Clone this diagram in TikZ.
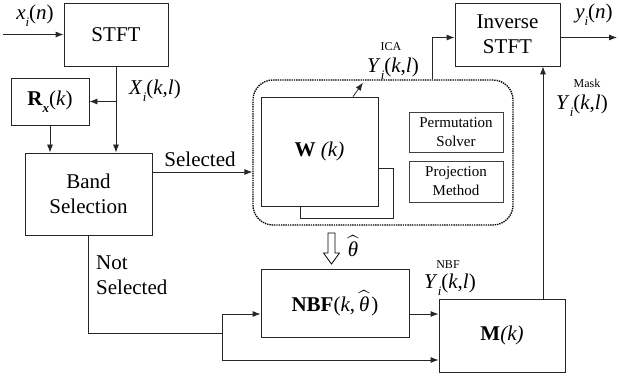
\documentclass[tikz,border=0pt]{standalone}
\usepackage{amsmath}
\usepackage{fontspec}
\setmainfont{Liberation Serif}
\usetikzlibrary{arrows.meta,calc}

% italic symbol with a low italic index, e.g. Y_i
\newcommand\lowidx[1]{\raisebox{-0.32em}{\fontsize{13}{13}\selectfont\itshape #1}}
\newcommand\Ykl{\textit{Y}\lowidx{i}(\textit{k},\textit{l})}
\newcommand\thetahat{$\widehat{\mbox{\itshape θ}}$}

\tikzset{
  blk/.style={draw=black!85, line width=0.8pt, fill=white, align=center, inner sep=0pt,
              font=\fontsize{21}{25}\selectfont},
  small/.style={draw=black!75, line width=0.8pt, align=center, inner sep=0pt,
                font=\fontsize{15}{19}\selectfont},
  lbl/.style={inner sep=0pt, align=center, font=\fontsize{21}{25}\selectfont},
  sup/.style={inner sep=0pt, font=\fontsize{12}{14}\selectfont},
  wire/.style={line width=0.8pt, draw=black!85},
  arr/.style={wire, -{Latex[length=8pt,width=6pt]}},
}

\begin{document}
\begin{tikzpicture}[x=1pt,y=-1pt]
\useasboundingbox (0,0) rectangle (619,379);

% processing blocks
\node[blk, minimum width=104pt, minimum height=63pt] (stft) at (116,34.5) {STFT};
\node[blk, minimum width=105pt, minimum height=63pt] (inv) at (507.5,34.5) {Inverse\\STFT};
\node[blk, minimum width=78pt, minimum height=47pt] (rx) at (50,101.5)
  {\textbf{R}\lowidx{\bfseries x}(\textit{k})};
\node[blk, minimum width=127pt, minimum height=82pt] (band) at (88.5,194) {Band\\Selection};

% ICA stage (dotted frame)
\node[draw, line width=1.3pt, dash pattern=on 1.4pt off 0.9pt, rounded corners=20pt,
      minimum width=260pt, minimum height=145pt, inner sep=0pt] (ica) at (383,152.5) {};
\draw[wire] (378,168) -- (393,168) -- (393,218) -- (300,218) -- (300,206);
\node[blk, minimum width=117pt, minimum height=109pt] (w) at (319.5,151.5)
  {\textbf{W} \textit{(k)}};
\node[small, minimum width=94pt, minimum height=40pt] (perm) at (456,132) {Permutation\\Solver};
\node[small, minimum width=94pt, minimum height=41pt] (proj) at (456,181.5) {Projection\\Method};

\node[blk, minimum width=148pt, minimum height=68pt] (nbf) at (335,303)
  {\textbf{NBF}(\textit{k},\kern4pt\thetahat\kern2pt)};
\node[blk, minimum width=126pt, minimum height=73pt] (m) at (502,335.5)
  {\textbf{M}\textit{(k)}};

% input and output
\coordinate (in) at (3,34.5);
\draw[arr] (in) -- (stft.west);
\node[lbl] (xin) at (35,16) {\textit{x}\lowidx{i}(\textit{n})};
\coordinate (out) at (617,37.5);
\draw[arr] ([yshift=-3pt]inv.east) -- (out);
\node[lbl] (yout) at (594,15) {\textit{y}\lowidx{i}(\textit{n})};

% STFT output to band selection and covariance
\draw[arr] (stft.south) -- (stft.south |- band.north);
\draw[arr] (stft.south |- rx.east) -- (rx.east);
\node[lbl] (xkl) at (155,91) {\textit{X}\lowidx{i}(\textit{k},\textit{l})};
\draw[arr] (rx.south) -- (rx.south |- band.north);

% selected bands
\draw[arr] ([yshift=22pt]band.east) -- ([yshift=22pt]band.east -| ica.west);
\node[lbl] (sel) at (200,159) {Selected};

% ICA output
\draw[arr] ([xshift=33.5pt]w.north) -- ++(10,-14);
\node[sup] (icatag) at (391,47) {ICA};
\node[lbl] (yica) at (393,69) {\Ykl};
\draw[arr] ([xshift=49pt]ica.north) |- ([yshift=-3pt]inv.west);

% direction estimate
\draw[line width=0.8pt, fill=white]
  (328,233) -- (335,233) -- (335,253) -- (339.5,253) -- (331.5,264)
  -- (323.5,253) -- (328,253) -- cycle;
\node[lbl] (theta) at (353,246) {\thetahat};

% bands not selected
\node[lbl, align=left, anchor=north west] (nsel) at (96,256) {Not\\Selected};
\coordinate (split) at (222,333);
\draw[wire] (band.south) |- (split);
\draw[arr] (split) |- ([yshift=-11pt]nbf.west);
\draw[arr] (split) |- ([yshift=-24.5pt]m.west);

% beamformer output to mask
\draw[arr] ([yshift=-11pt]nbf.east) -- ([yshift=-11pt]nbf.east -| m.west);
\node[sup] (nbftag) at (448,265) {NBF};
\node[lbl] (ynbf) at (450,285) {\Ykl};

% masked output
\draw[arr] ([xshift=41pt]m.north) -- ([xshift=41pt]m.north |- inv.south);
\node[sup] (masktag) at (587,83) {Mask};
\node[lbl] (ymask) at (582,106) {\Ykl};
\end{tikzpicture}
\end{document}
